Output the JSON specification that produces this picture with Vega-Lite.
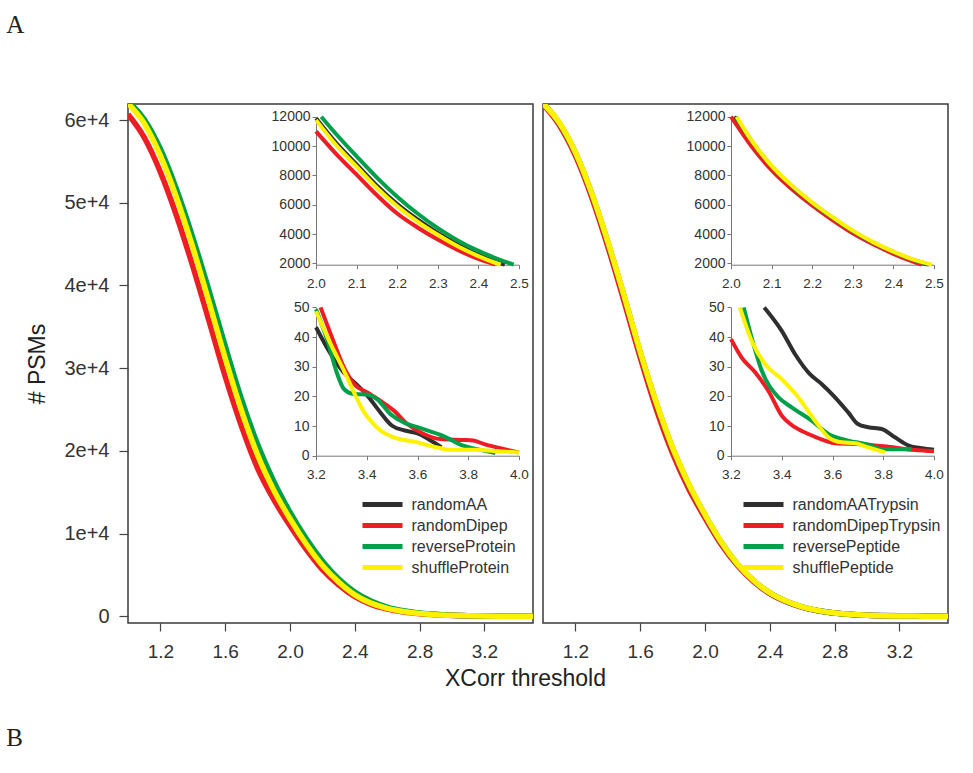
{
  "$schema": "https://vega.github.io/schema/vega-lite/v6.json",
  "background": "white",
  "padding": {"left": 6, "top": 12, "right": 5, "bottom": 5},
  "config": {
    "font": "Liberation Sans",
    "view": {"stroke": null},
    "axis": {"grid": false, "labelFont": "Liberation Sans", "titleFont": "Liberation Sans", "titleFontWeight": "normal", "labelFlush": false, "labelOverlap": false},
    "legend": {"labelFont": "Liberation Sans"}
  },
  "datasets": {
    "mainL": [
      {"s":"randomAA","x":1.0,"y":62100},{"s":"randomAA","x":1.1,"y":59800},{"s":"randomAA","x":1.2,"y":56000},{"s":"randomAA","x":1.3,"y":50900},{"s":"randomAA","x":1.4,"y":44900},{"s":"randomAA","x":1.5,"y":38400},{"s":"randomAA","x":1.6,"y":31600},{"s":"randomAA","x":1.7,"y":25300},{"s":"randomAA","x":1.8,"y":19900},{"s":"randomAA","x":1.9,"y":15600},{"s":"randomAA","x":2.0,"y":12000},{"s":"randomAA","x":2.1,"y":8900},{"s":"randomAA","x":2.2,"y":6250},{"s":"randomAA","x":2.3,"y":4250},{"s":"randomAA","x":2.4,"y":2700},{"s":"randomAA","x":2.5,"y":1650},{"s":"randomAA","x":2.6,"y":1000},{"s":"randomAA","x":2.7,"y":610},{"s":"randomAA","x":2.8,"y":365},{"s":"randomAA","x":2.9,"y":215},{"s":"randomAA","x":3.0,"y":128},{"s":"randomAA","x":3.1,"y":75},{"s":"randomAA","x":3.2,"y":43},{"s":"randomAA","x":3.3,"y":30},{"s":"randomAA","x":3.4,"y":20},{"s":"randomAA","x":3.5,"y":5},
      {"s":"randomDipep","x":1.0,"y":60700},{"s":"randomDipep","x":1.1,"y":57900},{"s":"randomDipep","x":1.2,"y":53700},{"s":"randomDipep","x":1.3,"y":48400},{"s":"randomDipep","x":1.4,"y":42300},{"s":"randomDipep","x":1.5,"y":35700},{"s":"randomDipep","x":1.6,"y":29000},{"s":"randomDipep","x":1.7,"y":23000},{"s":"randomDipep","x":1.8,"y":17900},{"s":"randomDipep","x":1.9,"y":14100},{"s":"randomDipep","x":2.0,"y":10950},{"s":"randomDipep","x":2.1,"y":8100},{"s":"randomDipep","x":2.2,"y":5650},{"s":"randomDipep","x":2.3,"y":3800},{"s":"randomDipep","x":2.4,"y":2380},{"s":"randomDipep","x":2.5,"y":1450},{"s":"randomDipep","x":2.6,"y":880},{"s":"randomDipep","x":2.7,"y":530},{"s":"randomDipep","x":2.8,"y":320},{"s":"randomDipep","x":2.9,"y":190},{"s":"randomDipep","x":3.0,"y":115},{"s":"randomDipep","x":3.1,"y":72},{"s":"randomDipep","x":3.2,"y":48},{"s":"randomDipep","x":3.3,"y":31},{"s":"randomDipep","x":3.4,"y":21},{"s":"randomDipep","x":3.5,"y":14},
      {"s":"reverseProtein","x":1.0,"y":62300},{"s":"reverseProtein","x":1.1,"y":60100},{"s":"reverseProtein","x":1.2,"y":56500},{"s":"reverseProtein","x":1.3,"y":51600},{"s":"reverseProtein","x":1.4,"y":45800},{"s":"reverseProtein","x":1.5,"y":39400},{"s":"reverseProtein","x":1.6,"y":32700},{"s":"reverseProtein","x":1.7,"y":26300},{"s":"reverseProtein","x":1.8,"y":20800},{"s":"reverseProtein","x":1.9,"y":16300},{"s":"reverseProtein","x":2.0,"y":12600},{"s":"reverseProtein","x":2.1,"y":9400},{"s":"reverseProtein","x":2.2,"y":6700},{"s":"reverseProtein","x":2.3,"y":4550},{"s":"reverseProtein","x":2.4,"y":2950},{"s":"reverseProtein","x":2.5,"y":1850},{"s":"reverseProtein","x":2.6,"y":1130},{"s":"reverseProtein","x":2.7,"y":690},{"s":"reverseProtein","x":2.8,"y":420},{"s":"reverseProtein","x":2.9,"y":250},{"s":"reverseProtein","x":3.0,"y":150},{"s":"reverseProtein","x":3.1,"y":90},{"s":"reverseProtein","x":3.2,"y":50},{"s":"reverseProtein","x":3.3,"y":28},{"s":"reverseProtein","x":3.4,"y":20},{"s":"reverseProtein","x":3.5,"y":12},
      {"s":"shuffleProtein","x":1.0,"y":62000},{"s":"shuffleProtein","x":1.1,"y":59600},{"s":"shuffleProtein","x":1.2,"y":55700},{"s":"shuffleProtein","x":1.3,"y":50600},{"s":"shuffleProtein","x":1.4,"y":44600},{"s":"shuffleProtein","x":1.5,"y":38000},{"s":"shuffleProtein","x":1.6,"y":31200},{"s":"shuffleProtein","x":1.7,"y":24900},{"s":"shuffleProtein","x":1.8,"y":19500},{"s":"shuffleProtein","x":1.9,"y":15250},{"s":"shuffleProtein","x":2.0,"y":11800},{"s":"shuffleProtein","x":2.1,"y":8750},{"s":"shuffleProtein","x":2.2,"y":6150},{"s":"shuffleProtein","x":2.3,"y":4150},{"s":"shuffleProtein","x":2.4,"y":2600},{"s":"shuffleProtein","x":2.5,"y":1600},{"s":"shuffleProtein","x":2.6,"y":970},{"s":"shuffleProtein","x":2.7,"y":590},{"s":"shuffleProtein","x":2.8,"y":355},{"s":"shuffleProtein","x":2.9,"y":210},{"s":"shuffleProtein","x":3.0,"y":125},{"s":"shuffleProtein","x":3.1,"y":75},{"s":"shuffleProtein","x":3.2,"y":46},{"s":"shuffleProtein","x":3.3,"y":29},{"s":"shuffleProtein","x":3.4,"y":16},{"s":"shuffleProtein","x":3.5,"y":9}
    ],
    "mainR": [
      {"s":"randomAATrypsin","x":1.0,"y":62000},{"s":"randomAATrypsin","x":1.1,"y":59600},{"s":"randomAATrypsin","x":1.2,"y":55950},{"s":"randomAATrypsin","x":1.3,"y":51000},{"s":"randomAATrypsin","x":1.4,"y":45050},{"s":"randomAATrypsin","x":1.5,"y":38500},{"s":"randomAATrypsin","x":1.6,"y":31700},{"s":"randomAATrypsin","x":1.7,"y":25450},{"s":"randomAATrypsin","x":1.8,"y":20100},{"s":"randomAATrypsin","x":1.9,"y":15750},{"s":"randomAATrypsin","x":2.0,"y":12150},{"s":"randomAATrypsin","x":2.1,"y":8850},{"s":"randomAATrypsin","x":2.2,"y":6250},{"s":"randomAATrypsin","x":2.3,"y":4300},{"s":"randomAATrypsin","x":2.4,"y":2820},{"s":"randomAATrypsin","x":2.5,"y":1820},{"s":"randomAATrypsin","x":2.6,"y":1130},{"s":"randomAATrypsin","x":2.7,"y":690},{"s":"randomAATrypsin","x":2.8,"y":420},{"s":"randomAATrypsin","x":2.9,"y":250},{"s":"randomAATrypsin","x":3.0,"y":150},{"s":"randomAATrypsin","x":3.1,"y":95},{"s":"randomAATrypsin","x":3.2,"y":65},{"s":"randomAATrypsin","x":3.3,"y":52},{"s":"randomAATrypsin","x":3.4,"y":42},{"s":"randomAATrypsin","x":3.5,"y":28},
      {"s":"randomDipepTrypsin","x":1.0,"y":61900},{"s":"randomDipepTrypsin","x":1.1,"y":59400},{"s":"randomDipepTrypsin","x":1.2,"y":55700},{"s":"randomDipepTrypsin","x":1.3,"y":50700},{"s":"randomDipepTrypsin","x":1.4,"y":44700},{"s":"randomDipepTrypsin","x":1.5,"y":38100},{"s":"randomDipepTrypsin","x":1.6,"y":31300},{"s":"randomDipepTrypsin","x":1.7,"y":25000},{"s":"randomDipepTrypsin","x":1.8,"y":19700},{"s":"randomDipepTrypsin","x":1.9,"y":15400},{"s":"randomDipepTrypsin","x":2.0,"y":11900},{"s":"randomDipepTrypsin","x":2.1,"y":8700},{"s":"randomDipepTrypsin","x":2.2,"y":6150},{"s":"randomDipepTrypsin","x":2.3,"y":4200},{"s":"randomDipepTrypsin","x":2.4,"y":2750},{"s":"randomDipepTrypsin","x":2.5,"y":1780},{"s":"randomDipepTrypsin","x":2.6,"y":1100},{"s":"randomDipepTrypsin","x":2.7,"y":670},{"s":"randomDipepTrypsin","x":2.8,"y":400},{"s":"randomDipepTrypsin","x":2.9,"y":230},{"s":"randomDipepTrypsin","x":3.0,"y":130},{"s":"randomDipepTrypsin","x":3.1,"y":75},{"s":"randomDipepTrypsin","x":3.2,"y":40},{"s":"randomDipepTrypsin","x":3.3,"y":27},{"s":"randomDipepTrypsin","x":3.4,"y":13},{"s":"randomDipepTrypsin","x":3.5,"y":7},
      {"s":"reversePeptide","x":1.0,"y":62000},{"s":"reversePeptide","x":1.1,"y":59650},{"s":"reversePeptide","x":1.2,"y":56050},{"s":"reversePeptide","x":1.3,"y":51150},{"s":"reversePeptide","x":1.4,"y":45250},{"s":"reversePeptide","x":1.5,"y":38750},{"s":"reversePeptide","x":1.6,"y":31950},{"s":"reversePeptide","x":1.7,"y":25750},{"s":"reversePeptide","x":1.8,"y":20350},{"s":"reversePeptide","x":1.9,"y":15950},{"s":"reversePeptide","x":2.0,"y":12280},{"s":"reversePeptide","x":2.1,"y":8980},{"s":"reversePeptide","x":2.2,"y":6330},{"s":"reversePeptide","x":2.3,"y":4330},{"s":"reversePeptide","x":2.4,"y":2840},{"s":"reversePeptide","x":2.5,"y":1840},{"s":"reversePeptide","x":2.6,"y":1140},{"s":"reversePeptide","x":2.7,"y":690},{"s":"reversePeptide","x":2.8,"y":415},{"s":"reversePeptide","x":2.9,"y":240},{"s":"reversePeptide","x":3.0,"y":135},{"s":"reversePeptide","x":3.1,"y":80},{"s":"reversePeptide","x":3.2,"y":58},{"s":"reversePeptide","x":3.3,"y":30},{"s":"reversePeptide","x":3.4,"y":17},{"s":"reversePeptide","x":3.5,"y":5},
      {"s":"shufflePeptide","x":1.0,"y":62000},{"s":"shufflePeptide","x":1.1,"y":59700},{"s":"shufflePeptide","x":1.2,"y":56100},{"s":"shufflePeptide","x":1.3,"y":51200},{"s":"shufflePeptide","x":1.4,"y":45300},{"s":"shufflePeptide","x":1.5,"y":38800},{"s":"shufflePeptide","x":1.6,"y":32000},{"s":"shufflePeptide","x":1.7,"y":25800},{"s":"shufflePeptide","x":1.8,"y":20400},{"s":"shufflePeptide","x":1.9,"y":16000},{"s":"shufflePeptide","x":2.0,"y":12300},{"s":"shufflePeptide","x":2.1,"y":9000},{"s":"shufflePeptide","x":2.2,"y":6350},{"s":"shufflePeptide","x":2.3,"y":4350},{"s":"shufflePeptide","x":2.4,"y":2850},{"s":"shufflePeptide","x":2.5,"y":1850},{"s":"shufflePeptide","x":2.6,"y":1150},{"s":"shufflePeptide","x":2.7,"y":700},{"s":"shufflePeptide","x":2.8,"y":420},{"s":"shufflePeptide","x":2.9,"y":245},{"s":"shufflePeptide","x":3.0,"y":140},{"s":"shufflePeptide","x":3.1,"y":85},{"s":"shufflePeptide","x":3.2,"y":55},{"s":"shufflePeptide","x":3.3,"y":32},{"s":"shufflePeptide","x":3.4,"y":24},{"s":"shufflePeptide","x":3.5,"y":4}
    ],
    "in1L": [
      {"s":"randomAA","x":2.0,"y":11900},{"s":"randomAA","x":2.05,"y":10200},{"s":"randomAA","x":2.1,"y":8750},{"s":"randomAA","x":2.15,"y":7300},{"s":"randomAA","x":2.2,"y":6050},{"s":"randomAA","x":2.25,"y":5000},{"s":"randomAA","x":2.3,"y":4080},{"s":"randomAA","x":2.35,"y":3270},{"s":"randomAA","x":2.4,"y":2600},{"s":"randomAA","x":2.45,"y":2030},{"s":"randomAA","x":2.465,"y":1915},
      {"s":"randomDipep","x":2.0,"y":11000},{"s":"randomDipep","x":2.05,"y":9450},{"s":"randomDipep","x":2.1,"y":8050},{"s":"randomDipep","x":2.15,"y":6650},{"s":"randomDipep","x":2.2,"y":5400},{"s":"randomDipep","x":2.25,"y":4450},{"s":"randomDipep","x":2.3,"y":3620},{"s":"randomDipep","x":2.35,"y":2900},{"s":"randomDipep","x":2.4,"y":2300},{"s":"randomDipep","x":2.442,"y":1915},
      {"s":"reverseProtein","x":2.013,"y":12000},{"s":"reverseProtein","x":2.05,"y":10800},{"s":"reverseProtein","x":2.1,"y":9300},{"s":"reverseProtein","x":2.15,"y":7850},{"s":"reverseProtein","x":2.2,"y":6550},{"s":"reverseProtein","x":2.25,"y":5400},{"s":"reverseProtein","x":2.3,"y":4400},{"s":"reverseProtein","x":2.35,"y":3550},{"s":"reverseProtein","x":2.4,"y":2850},{"s":"reverseProtein","x":2.45,"y":2280},{"s":"reverseProtein","x":2.487,"y":1915},
      {"s":"shuffleProtein","x":2.0,"y":11770},{"s":"shuffleProtein","x":2.05,"y":10050},{"s":"shuffleProtein","x":2.1,"y":8600},{"s":"shuffleProtein","x":2.15,"y":7150},{"s":"shuffleProtein","x":2.2,"y":5900},{"s":"shuffleProtein","x":2.25,"y":4850},{"s":"shuffleProtein","x":2.3,"y":3950},{"s":"shuffleProtein","x":2.35,"y":3150},{"s":"shuffleProtein","x":2.4,"y":2500},{"s":"shuffleProtein","x":2.45,"y":1960},{"s":"shuffleProtein","x":2.455,"y":1915}
    ],
    "in2L": [
      {"s":"randomAA","x":3.2,"y":43.3},{"s":"randomAA","x":3.258,"y":34.3},{"s":"randomAA","x":3.31,"y":28},{"s":"randomAA","x":3.36,"y":24},{"s":"randomAA","x":3.4,"y":20.5},{"s":"randomAA","x":3.45,"y":15},{"s":"randomAA","x":3.5,"y":10.1},{"s":"randomAA","x":3.55,"y":8.5},{"s":"randomAA","x":3.6,"y":7.5},{"s":"randomAA","x":3.65,"y":5.2},{"s":"randomAA","x":3.694,"y":2.9},
      {"s":"randomDipep","x":3.218,"y":50},{"s":"randomDipep","x":3.258,"y":41},{"s":"randomDipep","x":3.31,"y":29.8},{"s":"randomDipep","x":3.35,"y":24.2},{"s":"randomDipep","x":3.402,"y":21.3},{"s":"randomDipep","x":3.454,"y":18.5},{"s":"randomDipep","x":3.507,"y":15.2},{"s":"randomDipep","x":3.56,"y":10.7},{"s":"randomDipep","x":3.625,"y":7.3},{"s":"randomDipep","x":3.69,"y":5.6},{"s":"randomDipep","x":3.78,"y":5.3},{"s":"randomDipep","x":3.82,"y":5.1},{"s":"randomDipep","x":3.86,"y":4},{"s":"randomDipep","x":3.913,"y":2.8},{"s":"randomDipep","x":4.0,"y":1.1},
      {"s":"reverseProtein","x":3.2,"y":49.4},{"s":"reverseProtein","x":3.245,"y":38.8},{"s":"reverseProtein","x":3.284,"y":27.5},{"s":"reverseProtein","x":3.31,"y":22.5},{"s":"reverseProtein","x":3.35,"y":20.8},{"s":"reverseProtein","x":3.4,"y":20.6},{"s":"reverseProtein","x":3.44,"y":19.1},{"s":"reverseProtein","x":3.494,"y":14},{"s":"reverseProtein","x":3.546,"y":11.2},{"s":"reverseProtein","x":3.6,"y":9.6},{"s":"reverseProtein","x":3.7,"y":6.7},{"s":"reverseProtein","x":3.78,"y":3.4},{"s":"reverseProtein","x":3.835,"y":2.2},{"s":"reverseProtein","x":3.907,"y":0.9},
      {"s":"shuffleProtein","x":3.2,"y":48.7},{"s":"shuffleProtein","x":3.258,"y":37.6},{"s":"shuffleProtein","x":3.31,"y":28.7},{"s":"shuffleProtein","x":3.35,"y":21.3},{"s":"shuffleProtein","x":3.39,"y":14.6},{"s":"shuffleProtein","x":3.415,"y":11.8},{"s":"shuffleProtein","x":3.455,"y":8.4},{"s":"shuffleProtein","x":3.507,"y":6.2},{"s":"shuffleProtein","x":3.6,"y":4.5},{"s":"shuffleProtein","x":3.677,"y":2.8},{"s":"shuffleProtein","x":3.73,"y":2.0},{"s":"shuffleProtein","x":3.835,"y":2.0},{"s":"shuffleProtein","x":3.9,"y":1.6},{"s":"shuffleProtein","x":4.0,"y":1.1}
    ],
    "in1R": [
      {"s":"randomAATrypsin","x":2.008,"y":12000},{"s":"randomAATrypsin","x":2.05,"y":10250},{"s":"randomAATrypsin","x":2.1,"y":8520},{"s":"randomAATrypsin","x":2.15,"y":7180},{"s":"randomAATrypsin","x":2.2,"y":6050},{"s":"randomAATrypsin","x":2.25,"y":5050},{"s":"randomAATrypsin","x":2.3,"y":4140},{"s":"randomAATrypsin","x":2.35,"y":3380},{"s":"randomAATrypsin","x":2.4,"y":2730},{"s":"randomAATrypsin","x":2.45,"y":2180},{"s":"randomAATrypsin","x":2.485,"y":1915},
      {"s":"randomDipepTrypsin","x":2.0,"y":12000},{"s":"randomDipepTrypsin","x":2.05,"y":10000},{"s":"randomDipepTrypsin","x":2.1,"y":8350},{"s":"randomDipepTrypsin","x":2.15,"y":7050},{"s":"randomDipepTrypsin","x":2.2,"y":5950},{"s":"randomDipepTrypsin","x":2.25,"y":4950},{"s":"randomDipepTrypsin","x":2.3,"y":4050},{"s":"randomDipepTrypsin","x":2.35,"y":3300},{"s":"randomDipepTrypsin","x":2.4,"y":2650},{"s":"randomDipepTrypsin","x":2.45,"y":2100},{"s":"randomDipepTrypsin","x":2.47,"y":1915},
      {"s":"reversePeptide","x":2.012,"y":12000},{"s":"reversePeptide","x":2.05,"y":10380},{"s":"reversePeptide","x":2.1,"y":8620},{"s":"reversePeptide","x":2.15,"y":7270},{"s":"reversePeptide","x":2.2,"y":6120},{"s":"reversePeptide","x":2.25,"y":5120},{"s":"reversePeptide","x":2.3,"y":4200},{"s":"reversePeptide","x":2.35,"y":3420},{"s":"reversePeptide","x":2.4,"y":2780},{"s":"reversePeptide","x":2.45,"y":2230},{"s":"reversePeptide","x":2.49,"y":1915},
      {"s":"shufflePeptide","x":2.014,"y":12000},{"s":"shufflePeptide","x":2.05,"y":10400},{"s":"shufflePeptide","x":2.1,"y":8650},{"s":"shufflePeptide","x":2.15,"y":7300},{"s":"shufflePeptide","x":2.2,"y":6150},{"s":"shufflePeptide","x":2.25,"y":5150},{"s":"shufflePeptide","x":2.3,"y":4230},{"s":"shufflePeptide","x":2.35,"y":3450},{"s":"shufflePeptide","x":2.4,"y":2800},{"s":"shufflePeptide","x":2.45,"y":2250},{"s":"shufflePeptide","x":2.494,"y":1915}
    ],
    "in2R": [
      {"s":"randomAATrypsin","x":3.331,"y":50},{"s":"randomAATrypsin","x":3.4,"y":42.1},{"s":"randomAATrypsin","x":3.452,"y":34.3},{"s":"randomAATrypsin","x":3.511,"y":27.5},{"s":"randomAATrypsin","x":3.557,"y":24.2},{"s":"randomAATrypsin","x":3.61,"y":19.7},{"s":"randomAATrypsin","x":3.662,"y":14.6},{"s":"randomAATrypsin","x":3.7,"y":10.7},{"s":"randomAATrypsin","x":3.741,"y":9.6},{"s":"randomAATrypsin","x":3.794,"y":9.0},{"s":"randomAATrypsin","x":3.846,"y":6.2},{"s":"randomAATrypsin","x":3.9,"y":3.4},{"s":"randomAATrypsin","x":3.951,"y":2.5},{"s":"randomAATrypsin","x":4.0,"y":2.0},
      {"s":"randomDipepTrypsin","x":3.2,"y":39.3},{"s":"randomDipepTrypsin","x":3.242,"y":33.1},{"s":"randomDipepTrypsin","x":3.295,"y":28.1},{"s":"randomDipepTrypsin","x":3.347,"y":21.9},{"s":"randomDipepTrypsin","x":3.4,"y":13.5},{"s":"randomDipepTrypsin","x":3.452,"y":9.6},{"s":"randomDipepTrypsin","x":3.505,"y":7.3},{"s":"randomDipepTrypsin","x":3.57,"y":5.1},{"s":"randomDipepTrypsin","x":3.61,"y":4.2},{"s":"randomDipepTrypsin","x":3.715,"y":3.9},{"s":"randomDipepTrypsin","x":3.82,"y":3.0},{"s":"randomDipepTrypsin","x":3.925,"y":1.9},{"s":"randomDipepTrypsin","x":4.0,"y":1.5},
      {"s":"reversePeptide","x":3.25,"y":50},{"s":"reversePeptide","x":3.281,"y":39.9},{"s":"reversePeptide","x":3.321,"y":28.7},{"s":"reversePeptide","x":3.387,"y":19.7},{"s":"reversePeptide","x":3.439,"y":16.3},{"s":"reversePeptide","x":3.518,"y":11.8},{"s":"reversePeptide","x":3.584,"y":7.3},{"s":"reversePeptide","x":3.662,"y":5.1},{"s":"reversePeptide","x":3.741,"y":3.7},{"s":"reversePeptide","x":3.794,"y":2.2},{"s":"reversePeptide","x":3.912,"y":2.2},
      {"s":"shufflePeptide","x":3.235,"y":50},{"s":"shufflePeptide","x":3.281,"y":38.8},{"s":"shufflePeptide","x":3.334,"y":30.9},{"s":"shufflePeptide","x":3.4,"y":25.8},{"s":"shufflePeptide","x":3.465,"y":19.7},{"s":"shufflePeptide","x":3.531,"y":11.8},{"s":"shufflePeptide","x":3.584,"y":6.2},{"s":"shufflePeptide","x":3.636,"y":4.5},{"s":"shufflePeptide","x":3.689,"y":4.2},{"s":"shufflePeptide","x":3.741,"y":2.8},{"s":"shufflePeptide","x":3.807,"y":1.1}
    ]
  },
  "title": {"text": "B", "orient": "bottom", "anchor": "start", "frame": "bounds", "font": "Liberation Serif", "fontSize": 25, "fontWeight": "normal", "color": "#222", "offset": 35},
  "vconcat": [
    {
      "title": {"text": "A", "orient": "top", "anchor": "start", "frame": "bounds", "font": "Liberation Serif", "fontSize": 25, "fontWeight": "normal", "color": "#222", "dx": -20, "offset": 65.3},
      "vconcat": [
        {
          "title": {"text": "XCorr threshold", "orient": "bottom", "anchor": "middle", "frame": "bounds", "font": "Liberation Sans", "fontSize": 23, "fontWeight": "normal", "color": "#222", "offset": 6, "dx": 38},
          "spacing": 8,
          "resolve": {"scale": {"color": "independent", "x": "independent", "y": "independent"}, "legend": {"color": "independent"}},
          "hconcat": [
            {
              "width": 405, "height": 519,
              "view": {"stroke": "#3a3a3a", "strokeWidth": 1.5},
              "resolve": {"scale": {"x": "independent", "y": "independent"}, "axis": {"x": "independent", "y": "independent"}},
              "layer": [
                {
                  "data": {"name": "mainL"},
                  "mark": {"type": "line", "strokeWidth": 5.5, "interpolate": "monotone", "clip": true},
                  "encoding": {
                    "x": {"field": "x", "type": "quantitative", "scale": {"domain": [1.0, 3.5], "nice": false, "zero": false},
                      "axis": {"values": [1.2, 1.6, 2.0, 2.4, 2.8, 3.2], "format": ".1f", "title": null, "domain": false, "tickSize": 8, "tickColor": "#444", "tickWidth": 1.2, "labelFontSize": 19, "labelColor": "#333", "labelPadding": 11}},
                    "y": {"field": "y", "type": "quantitative", "scale": {"domain": [-800, 61940], "nice": false, "zero": false},
                      "axis": {"values": [0, 10000, 20000, 30000, 40000, 50000, 60000], "labelExpr": "datum.value == 0 ? '0' : format(datum.value / 10000, 'd') + 'e+4'", "title": "# PSMs", "titleFontSize": 23, "titleColor": "#222", "titlePadding": 14, "domain": false, "tickSize": 9, "tickColor": "#444", "tickWidth": 1.2, "labelPadding": 10, "labelFontSize": 20, "labelColor": "#333"}},
                    "color": {"field": "s", "type": "nominal",
                      "scale": {"domain": ["randomAA", "randomDipep", "reverseProtein", "shuffleProtein"], "range": ["#2f2f2f", "#ee1d23", "#00a04a", "#fff200"]},
                      "legend": {"title": null, "orient": "none", "legendX": 232, "legendY": 392, "symbolType": "stroke", "symbolSize": 1600, "symbolStrokeWidth": 5, "clipHeight": 17, "rowPadding": 4, "labelFontSize": 16, "labelColor": "#333", "labelOffset": 6.5, "padding": 0}}
                  }
                },
                {
                  "data": {"name": "in1L"},
                  "mark": {"type": "line", "strokeWidth": 4, "interpolate": "monotone"},
                  "encoding": {
                    "x": {"field": "x", "type": "quantitative", "scale": {"domain": [2.0, 2.5], "range": [188, 391], "nice": false, "zero": false},
                      "axis": {"orient": "bottom", "offset": -358.3, "values": [2.0, 2.1, 2.2, 2.3, 2.4, 2.5], "format": ".1f", "title": null, "tickSize": 4, "labelPadding": 8, "labelFontSize": 13.5, "labelColor": "#333", "domainColor": "#777", "tickColor": "#777"}},
                    "y": {"field": "y", "type": "quantitative", "scale": {"domain": [1910, 12000], "range": [160.7, 12.7], "nice": false, "zero": false},
                      "axis": {"orient": "left", "offset": -188, "values": [2000, 4000, 6000, 8000, 10000, 12000], "format": "d", "title": null, "tickSize": 4, "labelPadding": 2, "labelFontSize": 14, "labelColor": "#333", "domainColor": "#777", "tickColor": "#777"}},
                    "color": {"field": "s", "type": "nominal",
                      "scale": {"domain": ["randomAA", "randomDipep", "reverseProtein", "shuffleProtein"], "range": ["#2f2f2f", "#ee1d23", "#00a04a", "#fff200"]},
                      "legend": {"title": null, "orient": "none", "legendX": 232, "legendY": 392, "symbolType": "stroke", "symbolSize": 1600, "symbolStrokeWidth": 5, "clipHeight": 17, "rowPadding": 4, "labelFontSize": 16, "labelColor": "#333", "labelOffset": 6.5, "padding": 0}}
                  }
                },
                {
                  "data": {"name": "in2L"},
                  "mark": {"type": "line", "strokeWidth": 4, "interpolate": "monotone"},
                  "encoding": {
                    "x": {"field": "x", "type": "quantitative", "scale": {"domain": [3.2, 4.0], "range": [188, 391], "nice": false, "zero": false},
                      "axis": {"orient": "bottom", "offset": -167.3, "values": [3.2, 3.4, 3.6, 3.8, 4.0], "format": ".1f", "title": null, "tickSize": 4, "labelPadding": 8, "labelFontSize": 13.5, "labelColor": "#333", "domainColor": "#777", "tickColor": "#777"}},
                    "y": {"field": "y", "type": "quantitative", "scale": {"domain": [0, 50], "range": [351.7, 203.4], "nice": false, "zero": false},
                      "axis": {"orient": "left", "offset": -188, "values": [0, 10, 20, 30, 40, 50], "format": "d", "title": null, "tickSize": 4, "labelPadding": 3, "labelFontSize": 14, "labelColor": "#333", "domainColor": "#777", "tickColor": "#777"}},
                    "color": {"field": "s", "type": "nominal",
                      "scale": {"domain": ["randomAA", "randomDipep", "reverseProtein", "shuffleProtein"], "range": ["#2f2f2f", "#ee1d23", "#00a04a", "#fff200"]},
                      "legend": {"title": null, "orient": "none", "legendX": 232, "legendY": 392, "symbolType": "stroke", "symbolSize": 1600, "symbolStrokeWidth": 5, "clipHeight": 17, "rowPadding": 4, "labelFontSize": 16, "labelColor": "#333", "labelOffset": 6.5, "padding": 0}}
                  }
                }
              ]
            },
            {
              "width": 405, "height": 519,
              "view": {"stroke": "#3a3a3a", "strokeWidth": 1.5},
              "resolve": {"scale": {"x": "independent", "y": "independent"}, "axis": {"x": "independent", "y": "independent"}},
              "layer": [
                {
                  "data": {"name": "mainR"},
                  "mark": {"type": "line", "strokeWidth": 5.5, "interpolate": "monotone", "clip": true},
                  "encoding": {
                    "x": {"field": "x", "type": "quantitative", "scale": {"domain": [1.0, 3.5], "nice": false, "zero": false},
                      "axis": {"values": [1.2, 1.6, 2.0, 2.4, 2.8, 3.2], "format": ".1f", "title": null, "domain": false, "tickSize": 8, "tickColor": "#444", "tickWidth": 1.2, "labelFontSize": 19, "labelColor": "#333", "labelPadding": 11}},
                    "y": {"field": "y", "type": "quantitative", "scale": {"domain": [-800, 61940], "nice": false, "zero": false}, "axis": null},
                    "color": {"field": "s", "type": "nominal",
                      "scale": {"domain": ["randomAATrypsin", "randomDipepTrypsin", "reversePeptide", "shufflePeptide"], "range": ["#2f2f2f", "#ee1d23", "#00a04a", "#fff200"]},
                      "legend": {"title": null, "orient": "none", "legendX": 198, "legendY": 392, "symbolType": "stroke", "symbolSize": 1600, "symbolStrokeWidth": 5, "clipHeight": 17, "rowPadding": 4, "labelFontSize": 16, "labelColor": "#333", "labelOffset": 6.5, "padding": 0}}
                  }
                },
                {
                  "data": {"name": "in1R"},
                  "mark": {"type": "line", "strokeWidth": 4, "interpolate": "monotone"},
                  "encoding": {
                    "x": {"field": "x", "type": "quantitative", "scale": {"domain": [2.0, 2.5], "range": [188, 391], "nice": false, "zero": false},
                      "axis": {"orient": "bottom", "offset": -358.3, "values": [2.0, 2.1, 2.2, 2.3, 2.4, 2.5], "format": ".1f", "title": null, "tickSize": 4, "labelPadding": 8, "labelFontSize": 13.5, "labelColor": "#333", "domainColor": "#777", "tickColor": "#777"}},
                    "y": {"field": "y", "type": "quantitative", "scale": {"domain": [1910, 12000], "range": [160.7, 12.7], "nice": false, "zero": false},
                      "axis": {"orient": "left", "offset": -188, "values": [2000, 4000, 6000, 8000, 10000, 12000], "format": "d", "title": null, "tickSize": 4, "labelPadding": 2, "labelFontSize": 14, "labelColor": "#333", "domainColor": "#777", "tickColor": "#777"}},
                    "color": {"field": "s", "type": "nominal",
                      "scale": {"domain": ["randomAATrypsin", "randomDipepTrypsin", "reversePeptide", "shufflePeptide"], "range": ["#2f2f2f", "#ee1d23", "#00a04a", "#fff200"]},
                      "legend": {"title": null, "orient": "none", "legendX": 198, "legendY": 392, "symbolType": "stroke", "symbolSize": 1600, "symbolStrokeWidth": 5, "clipHeight": 17, "rowPadding": 4, "labelFontSize": 16, "labelColor": "#333", "labelOffset": 6.5, "padding": 0}}
                  }
                },
                {
                  "data": {"name": "in2R"},
                  "mark": {"type": "line", "strokeWidth": 4, "interpolate": "monotone"},
                  "encoding": {
                    "x": {"field": "x", "type": "quantitative", "scale": {"domain": [3.2, 4.0], "range": [188, 391], "nice": false, "zero": false},
                      "axis": {"orient": "bottom", "offset": -167.3, "values": [3.2, 3.4, 3.6, 3.8, 4.0], "format": ".1f", "title": null, "tickSize": 4, "labelPadding": 8, "labelFontSize": 13.5, "labelColor": "#333", "domainColor": "#777", "tickColor": "#777"}},
                    "y": {"field": "y", "type": "quantitative", "scale": {"domain": [0, 50], "range": [351.7, 203.4], "nice": false, "zero": false},
                      "axis": {"orient": "left", "offset": -188, "values": [0, 10, 20, 30, 40, 50], "format": "d", "title": null, "tickSize": 4, "labelPadding": 3, "labelFontSize": 14, "labelColor": "#333", "domainColor": "#777", "tickColor": "#777"}},
                    "color": {"field": "s", "type": "nominal",
                      "scale": {"domain": ["randomAATrypsin", "randomDipepTrypsin", "reversePeptide", "shufflePeptide"], "range": ["#2f2f2f", "#ee1d23", "#00a04a", "#fff200"]},
                      "legend": {"title": null, "orient": "none", "legendX": 198, "legendY": 392, "symbolType": "stroke", "symbolSize": 1600, "symbolStrokeWidth": 5, "clipHeight": 17, "rowPadding": 4, "labelFontSize": 16, "labelColor": "#333", "labelOffset": 6.5, "padding": 0}}
                  }
                }
              ]
            }
          ]
        }
      ]
    }
  ]
}
